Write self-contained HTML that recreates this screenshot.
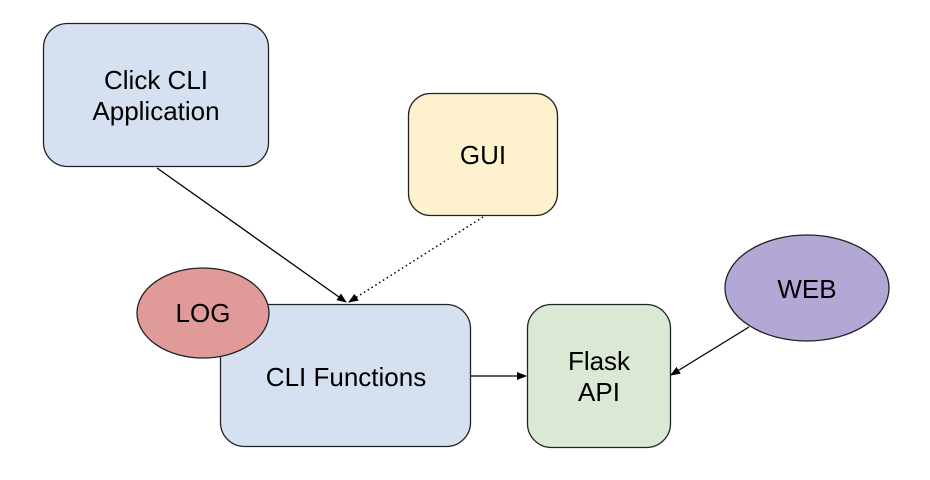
<!DOCTYPE html>
<html><head><style>html,body{margin:0;padding:0;background:#fff}svg{display:block}text{font-family:"Liberation Sans",Arial,sans-serif;font-size:26px;fill:#000;text-anchor:middle}</style></head>
<body>
<svg width="930" height="480" viewBox="0 0 930 480" xmlns="http://www.w3.org/2000/svg">
<defs>
<marker id="a" markerWidth="10" markerHeight="8" refX="9" refY="4" orient="auto" markerUnits="userSpaceOnUse">
<path d="M0,0 L10,4 L0,8 Z" fill="#000"/></marker>
</defs>
<rect x="43.5" y="23.5" width="225" height="143" rx="24" fill="#d5e1f1" stroke="#222" stroke-width="1.3"/>
<text x="156" y="89">Click CLI</text>
<text x="156" y="120">Application</text>
<rect x="408.5" y="93.5" width="149" height="122" rx="22" fill="#fdf2cd" stroke="#222" stroke-width="1.3"/>
<text x="483" y="164">GUI</text>
<rect x="220.5" y="304.5" width="250" height="142" rx="24" fill="#d5e1f1" stroke="#222" stroke-width="1.3"/>
<text x="346" y="386">CLI Functions</text>
<ellipse cx="203" cy="313" rx="66" ry="45" fill="#e09a9a" stroke="#222" stroke-width="1.3"/>
<text x="203" y="322">LOG</text>
<rect x="527.5" y="304.5" width="143" height="143" rx="24" fill="#dae8d4" stroke="#222" stroke-width="1.3"/>
<text x="599" y="370">Flask</text>
<text x="599" y="401">API</text>
<ellipse cx="807" cy="288" rx="82" ry="53" fill="#b3a7d5" stroke="#222" stroke-width="1.3"/>
<text x="807" y="298">WEB</text>
<line x1="157" y1="168" x2="346" y2="302" stroke="#000" stroke-width="1.3" marker-end="url(#a)"/>
<line x1="483" y1="217" x2="349" y2="302" stroke="#000" stroke-width="1.5" stroke-dasharray="1.5,3" marker-end="url(#a)"/>
<line x1="471" y1="376" x2="526" y2="376" stroke="#000" stroke-width="1.3" marker-end="url(#a)"/>
<line x1="749" y1="327" x2="671" y2="375" stroke="#000" stroke-width="1.3" marker-end="url(#a)"/>
</svg>
</body></html>
